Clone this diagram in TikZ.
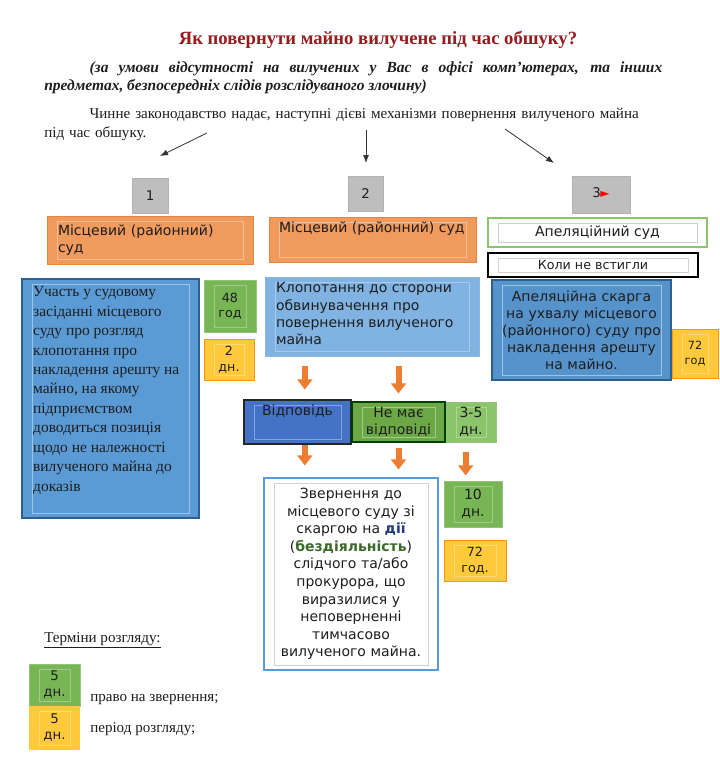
\documentclass[tikz,border=0pt]{standalone}
\usepackage{fontspec}
\setmainfont{Liberation Serif}
\newfontfamily\boxfont{DejaVu Sans}
\usepackage{xcolor}
\usetikzlibrary{arrows.meta}

\definecolor{titlered}{HTML}{981B1E}
\definecolor{greyfill}{HTML}{BEBEBE}
\definecolor{orangefill}{HTML}{F09A5E}
\definecolor{orangeline}{HTML}{E5843F}
\definecolor{bluefill}{HTML}{5B9BD5}
\definecolor{blueline}{HTML}{2F5F8F}
\definecolor{lightbluefill}{HTML}{80B3E2}
\definecolor{darkbluefill}{HTML}{4472C4}
\definecolor{greenfill}{HTML}{78B555}
\definecolor{greendark}{HTML}{6CA845}
\definecolor{greenlight}{HTML}{8CC46B}
\definecolor{yellowfill}{HTML}{FFC93C}
\definecolor{arroworange}{HTML}{ED7D31}
\definecolor{textdark}{HTML}{1E1E1E}
\definecolor{navytext}{HTML}{1F3A7A}
\definecolor{greentext}{HTML}{3B6B2A}

\begin{document}
\begin{tikzpicture}[x=0.75pt, y=-0.75pt,
  tframe/.style={path picture={\draw[#1, line width=0.5pt]
      ([shift={(10,5)}]path picture bounding box.north west) rectangle
      ([shift={(-10,-5)}]path picture bounding box.south east);}},
  box/.style={inner sep=0pt, text=textdark, font=\boxfont\fontsize{10.5}{13}\selectfont},
  numbox/.style={box, draw=gray!60, fill=greyfill, font=\boxfont\fontsize{10}{12}\selectfont},
  courtbox/.style={box, draw=orangeline, fill=orangefill, tframe=white!35!orangefill},
  bluebox/.style={box, draw=blueline, line width=0.9pt, fill=bluefill, tframe=white!40!bluefill},
  lbluebox/.style={box, draw=white!30!bluefill, fill=lightbluefill, tframe=white!30!lightbluefill},
  greenbox/.style={box, draw=white!20!greenfill, fill=greenfill, tframe=white!30!greenfill, align=center},
  yellowbox/.style={box, draw=orange!70!yellowfill, fill=yellowfill, tframe=white!30!yellowfill, align=center},
  smallnum/.style={font=\boxfont\fontsize{9.5}{11.5}\selectfont},
  oarrow/.style={draw=arroworange, line width=4.5pt, -{Triangle[width=11pt,length=7.5pt]}},
  tarrow/.style={draw=black!80, line width=0.6pt, -{Latex[length=6pt,width=4.5pt]}},
  serif/.style={font=\fontsize{11.3}{14}\selectfont, text=textdark}
]
  \useasboundingbox[fill=white] (0,0) rectangle (720,769);

  % heading
  \node[font=\bfseries\fontsize{14}{17}\selectfont, text=titlered] (title) at (378,40)
    {Як повернути майно вилучене під час обшуку?};
  \node[anchor=north west, text width=463.5pt, align=justify, inner sep=0pt,
        font=\bfseries\itshape\fontsize{11.6}{14}\selectfont, text=textdark] (cond) at (44,61)
    {\hspace*{34pt}(за умови відсутності на вилучених у Вас в офісі комп’ютерах, та інших\linebreak
     предметах, безпосередніх слідів розслідуваного злочину)};
  \node[anchor=north west, text width=470pt, align=left, inner sep=0pt, serif] (intro) at (44,108)
    {\hspace*{34pt}Чинне законодавство надає, наступні дієві механізми повернення вилученого майна\\
     під час обшуку.};

  \coordinate (s1) at (207,133);  \coordinate (e1) at (160,156);
  \coordinate (s2) at (366,130);  \coordinate (e2) at (366,163);
  \coordinate (s3) at (505,129);  \coordinate (e3) at (554,163);
  \draw[tarrow] (s1) -- (e1);
  \draw[tarrow] (s2) -- (e2);
  \draw[tarrow] (s3) -- (e3);

  % numbers
  \node[numbox, minimum width=27pt, minimum height=26.25pt] (n1) at (150,195.5) {1};
  \node[numbox, minimum width=26.25pt, minimum height=26.25pt] (n2) at (365.5,193.5) {2};
  \node[numbox, minimum width=43.5pt, minimum height=27.75pt] (n3) at (601,194.5)
    {\raisebox{3pt}{3\kern-0.5pt{\color{red}\fontsize{9}{10}\selectfont ►}}};

  % courts
  \node[courtbox, minimum width=154.5pt, minimum height=36pt, text width=138pt, align=left] (sud1) at (150,240)
    {Місцевий (районний)\\суд};
  \node[courtbox, minimum width=155.25pt, minimum height=33.75pt] (sud2) at (372.5,239.5)
    {\parbox[c][26pt][t]{140pt}{Місцевий (районний) суд}};
  \node[box, draw=greenlight, line width=0.8pt, fill=white, tframe=gray!40,
        minimum width=164.25pt, minimum height=21.75pt] (apel) at (597.5,232.5) {Апеляційний суд};
  \node[box, draw=black, line width=1.1pt, fill=white, tframe=gray!35,
        minimum width=157.5pt, minimum height=18pt, font=\boxfont\fontsize{9.5}{11}\selectfont] (koly) at (593,265)
    {Коли не встигли};

  % first column
  \node[bluebox, minimum width=132.75pt, minimum height=179.25pt, font=\fontsize{11.6}{14.6}\selectfont] (uchast) at (110.5,398.5)
    {\parbox[c][168pt][t]{116pt}{\raggedright Участь у судовому\\засіданні місцевого\\суду про розгляд\\клопотання про\\
     накладення арешту на\\майно, на якому\\підприємством\\доводиться позиція\\щодо не належності\\
     вилученого майна до\\доказів}};
  \node[greenbox, minimum width=39pt, minimum height=39pt, smallnum] (g48) at (230,306) {48\\год};
  \node[yellowbox, minimum width=37.5pt, minimum height=30.75pt, smallnum] (y2) at (229,359.5) {2\\дн.};

  % second column
  \node[lbluebox, minimum width=160.5pt, minimum height=59.25pt] (klop) at (372,316.5)
    {\parbox[c][51pt][t]{144pt}{\raggedright Клопотання до сторони\\обвинувачення про\\повернення вилученого\\майна}};
  \node[box, draw=black!85, line width=0.8pt, fill=darkbluefill, tframe=white!35!darkbluefill,
        minimum width=80.25pt, minimum height=33pt] (vid) at (297.5,422)
    {\parbox[c][25pt][t]{66pt}{\centering Відповідь}};
  \node[greenbox, draw=green!25!black, line width=0.8pt, fill=greendark,
        minimum width=69.75pt, minimum height=30pt] (nemae) at (398.5,422) {Не має\\відповіді};
  \node[greenbox, fill=greenlight, tframe=white!30!greenlight,
        minimum width=37.5pt, minimum height=30pt] (d35) at (471,422) {3-5\\дн.};
  \node[box, draw=bluefill, line width=0.8pt, fill=white, tframe=gray!35,
        minimum width=130.5pt, minimum height=144pt, text width=120pt, align=center,
        font=\boxfont\fontsize{10.5}{13.2}\selectfont] (zvern) at (351,574)
    {Звернення до\\місцевого суду зі\\скаргою на \textbf{\color{navytext}дії}\\
     (\textbf{\color{greentext}бездіяльність})\\слідчого та/або\\прокурора, що\\виразилися у\\
     неповерненні\\тимчасово\\вилученого майна.};
  \node[greenbox, minimum width=43.5pt, minimum height=34.5pt] (d10) at (473,504) {10\\дн.};
  \node[yellowbox, minimum width=46.5pt, minimum height=30.75pt, smallnum] (y72b) at (475,560.5) {72\\год.};

  \draw[oarrow, shorten <=7.5pt, shorten >=7.5pt] ([xshift=5.5pt]klop.south -| vid.north) -- ([xshift=5.5pt]vid.north);
  \draw[oarrow, shorten <=7.5pt, shorten >=6pt] (klop.south -| nemae.north) -- (nemae.north);
  \draw[oarrow, shorten <=0pt, shorten >=9pt] ([xshift=5.5pt]vid.south) -- ([xshift=5.5pt]vid.south |- zvern.north);
  \draw[oarrow, shorten <=4pt, shorten >=6pt] (nemae.south) -- (nemae.south |- zvern.north);
  \draw[oarrow, shorten <=7.5pt, shorten >=4pt] ([xshift=-4pt]d35.south) -- ([xshift=-4pt]d35.south |- d10.north);

  % third column
  \node[bluebox, fill=bluefill!95!black, minimum width=134.25pt, minimum height=75pt, text width=122pt, align=center,
        font=\boxfont\fontsize{10.5}{12.8}\selectfont] (skarga) at (581.5,330)
    {Апеляційна скарга\\на ухвалу місцевого\\(районного) суду про\\накладення арешту\\на майно.};
  \node[yellowbox, minimum width=34.5pt, minimum height=36.75pt, font=\boxfont\fontsize{8.5}{11}\selectfont] (y72a) at (695,353.5) {72\\год};

  % legend
  \node[serif, anchor=west, inner sep=0pt] (terms) at (44,640) {\underline{Терміни розгляду:}};
  \node[greenbox, minimum width=38.25pt, minimum height=31.5pt, font=\boxfont\fontsize{10}{12}\selectfont] (g5) at (54.5,685) {5\\дн.};
  \node[yellowbox, draw=none, minimum width=38.25pt, minimum height=33pt, font=\boxfont\fontsize{10}{12}\selectfont] (y5) at (54.5,728) {5\\дн.};
  \node[serif, anchor=west, inner sep=0pt] (right) at (90,700) {право на звернення;};
  \node[serif, anchor=west, inner sep=0pt] (period) at (90,729) {період розгляду;};
\end{tikzpicture}
\end{document}
